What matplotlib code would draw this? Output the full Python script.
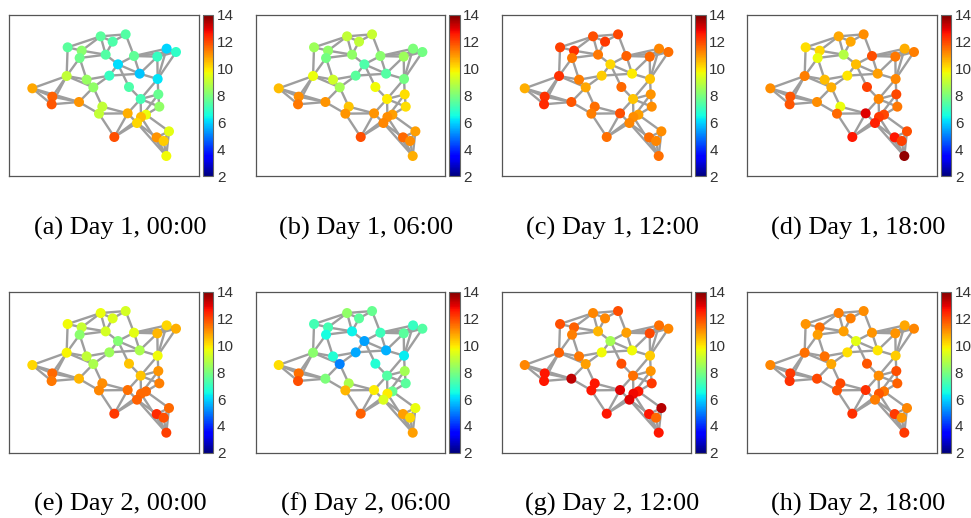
import matplotlib
matplotlib.use("Agg")
import matplotlib.pyplot as plt

W, H = 971, 518

node_x = [203, 302, 338, 377, 245, 239, 317, 402, 472, 500, 528, 354, 419, 473, 200, 260, 328, 280, 387,
          97, 157, 155, 237, 422, 475, 478, 307, 297, 383, 438, 423, 411, 343, 507, 470, 491, 499]
node_y = [127, 94, 110, 88, 137, 159, 149, 153, 155, 131, 141, 178, 206, 222, 213, 224, 212, 247, 246,
          250, 275, 298, 291, 282, 268, 305, 305, 326, 325, 329, 336, 354, 396, 379, 397, 408, 453]

edges = [(0, 1), (0, 4), (0, 14), (1, 3), (1, 2), (1, 6), (1, 4), (2, 3), (2, 6), (3, 7), (4, 6), (4, 5),
         (5, 6), (5, 14), (5, 15), (6, 11), (7, 11), (7, 12), (7, 8), (7, 9), (7, 10), (8, 9), (8, 10),
         (8, 12), (8, 13), (9, 13), (10, 13), (9, 10), (11, 16), (11, 18), (11, 12), (12, 13), (12, 16),
         (14, 15), (14, 19), (14, 20), (14, 21), (14, 17), (15, 16), (15, 17), (16, 17), (17, 22), (17, 26),
         (18, 23), (19, 20), (19, 21), (19, 22), (20, 22), (20, 21), (21, 22), (22, 27), (26, 28), (26, 27),
         (27, 28), (27, 32), (28, 32), (28, 31), (13, 23), (23, 24), (23, 25), (23, 30), (23, 28), (24, 13),
         (24, 25), (24, 30), (25, 29), (29, 31), (30, 31), (30, 32), (31, 32), (29, 33), (31, 34), (31, 36),
         (30, 36), (34, 33), (34, 35), (34, 36), (35, 36), (33, 36), (33, 35), (29, 30)]

day1_00 = [7.5, 7.5, 7.3, 7.4, 8.2, 7.8, 7.4, 7.6, 7.0, 6.0, 6.9, 6.1, 5.8, 6.2, 9.0, 8.4, 7.0, 8.3, 7.3,
           10.8, 11.7, 11.8, 11.0, 7.2, 7.7, 8.3, 9.0, 9.0, 10.7, 9.6, 10.5, 10.2, 11.9, 9.5, 11.0, 10.3, 9.7]
day1_06 = [8.5, 9.0, 9.0, 9.1, 8.3, 7.9, 8.3, 8.2, 8.5, 8.0, 7.9, 7.3, 7.4, 7.9, 9.6, 9.2, 7.5, 8.6, 9.7,
           10.5, 11.1, 11.4, 11.0, 9.9, 10.1, 10.1, 10.4, 11.0, 11.0, 10.9, 11.1, 11.2, 11.9, 10.9, 11.6, 11.1, 10.7]
day1_12 = [12.1, 11.9, 12.2, 12.0, 12.3, 11.4, 11.4, 11.7, 11.6, 11.2, 11.5, 10.2, 9.9, 10.4, 12.3, 11.3, 10.3, 10.8, 11.6,
           10.7, 12.3, 12.4, 11.8, 10.4, 11.0, 11.1, 11.5, 11.3, 11.9, 10.9, 11.1, 11.2, 11.5, 11.1, 11.5, 11.2, 11.5]
day1_18 = [10.1, 10.8, 10.8, 11.1, 10.2, 9.6, 8.8, 11.9, 11.4, 10.7, 11.3, 10.5, 10.9, 11.2, 11.3, 10.5, 10.0, 10.7, 12.1,
           11.1, 11.8, 11.8, 11.1, 11.2, 12.0, 11.4, 9.6, 11.6, 13.0, 12.0, 12.2, 12.5, 12.6, 11.9, 12.6, 12.1, 13.8]
day2_00 = [9.7, 9.6, 9.4, 9.3, 9.1, 8.2, 9.3, 9.5, 10.6, 10.2, 10.7, 8.1, 8.7, 9.7, 9.8, 9.0, 8.5, 8.7, 10.4,
           10.2, 11.6, 11.4, 10.6, 10.4, 11.0, 11.3, 11.1, 11.2, 11.5, 11.6, 11.6, 11.7, 12.2, 11.6, 12.4, 11.9, 12.1]
day2_06 = [7.2, 8.3, 7.5, 7.7, 7.2, 6.5, 6.4, 7.1, 7.5, 7.0, 7.4, 5.4, 5.6, 6.3, 8.2, 6.7, 5.5, 5.0, 6.7,
           10.1, 11.5, 11.9, 8.0, 7.4, 8.6, 7.5, 8.7, 10.6, 9.9, 7.7, 9.9, 9.4, 11.7, 9.6, 10.9, 10.2, 10.9]
day2_12 = [11.9, 11.2, 11.2, 11.9, 11.7, 11.3, 10.6, 10.9, 12.0, 11.5, 11.2, 8.6, 9.7, 10.3, 11.7, 11.4, 9.7, 10.9, 11.9,
           11.2, 12.6, 12.6, 13.3, 11.5, 11.0, 12.2, 12.6, 12.6, 13.0, 12.6, 12.8, 13.0, 12.6, 13.4, 12.6, 11.6, 12.6]
day2_18 = [11.0, 11.3, 11.3, 11.1, 11.5, 10.9, 10.9, 11.0, 11.0, 10.8, 11.2, 9.5, 10.0, 10.3, 11.5, 11.5, 10.1, 10.8, 11.8,
           11.2, 12.2, 12.3, 12.0, 11.1, 11.9, 11.7, 12.0, 11.9, 12.3, 11.4, 11.8, 11.3, 12.3, 11.2, 12.2, 11.0, 12.2]

panels = [day1_00, day1_06, day1_12, day1_18, day2_00, day2_06, day2_12, day2_18]
captions = ["(a) Day 1, 00:00", "(b) Day 1, 06:00", "(c) Day 1, 12:00", "(d) Day 1, 18:00",
            "(e) Day 2, 00:00", "(f) Day 2, 06:00", "(g) Day 2, 12:00", "(h) Day 2, 18:00"]
cbar_ticks = [2, 4, 6, 8, 10, 12, 14]

lefts = [9.3, 255.7, 501.7, 747.3]
tops = [15, 291.7]
box_w, box_h = 189.7, 161
cb_gap, cb_w = 3.7, 10.6
caption_y = [228.5, 504.5]
caption_x = [120, 366, 612, 858]


def px_axes(fig, x0, y0, w, h):
    return fig.add_axes([x0 / W, 1 - (y0 + h) / H, w / W, h / H])


fig = plt.figure(figsize=(W / 100, H / 100), dpi=100)

for i, vals in enumerate(panels):
    row, col = i // 4, i % 4
    ax = px_axes(fig, lefts[col], tops[row], box_w, box_h)
    for a, b in edges:
        ax.plot([node_x[a], node_x[b]], [node_y[a], node_y[b]], color="#9e9e9e", lw=1.7, zorder=1,
                solid_capstyle="round")
    sc = ax.scatter(node_x, node_y, c=vals, cmap="jet", vmin=2, vmax=14, s=52, linewidths=0, zorder=2)
    ax.set_xlim(28, 597)
    ax.set_ylim(513, 30)
    ax.set_xticks([])
    ax.set_yticks([])
    for sp in ax.spines.values():
        sp.set_color("#555555")
        sp.set_linewidth(0.9)

    cax = px_axes(fig, lefts[col] + box_w + cb_gap, tops[row], cb_w, box_h)
    cb = fig.colorbar(sc, cax=cax, ticks=cbar_ticks)
    cb.ax.tick_params(length=0, pad=2.5, labelsize=11, labelcolor="#333333")
    for lab in cb.ax.get_yticklabels():
        lab.set_family("Liberation Sans")
    cb.outline.set_edgecolor("#666666")
    cb.outline.set_linewidth(0.8)

    fig.text(caption_x[col] / W, 1 - caption_y[row] / H, captions[i], family="Liberation Serif",
             fontsize=19, ha="center", va="center", color="black")

fig.savefig("out.png", dpi=100)
plt.close(fig)
